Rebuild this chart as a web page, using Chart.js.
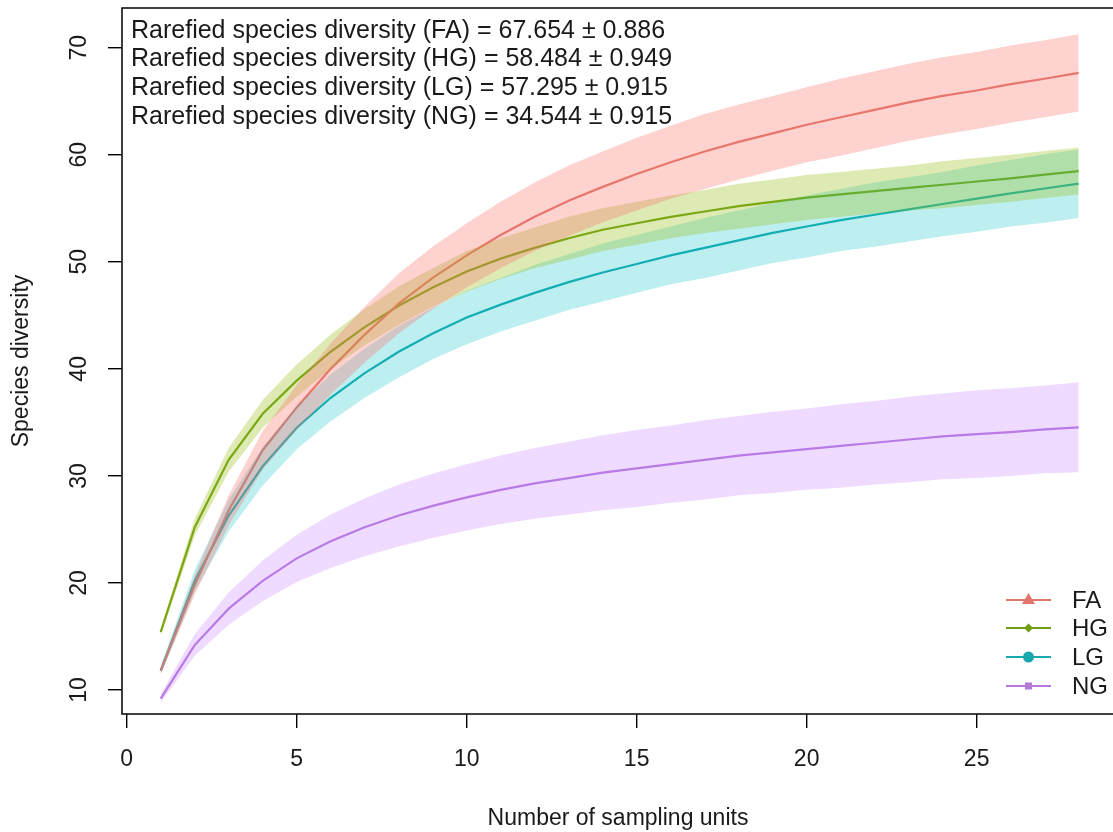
<!DOCTYPE html>
<html>
<head>
<meta charset="utf-8">
<title>Rarefaction curves</title>
<script src="https://cdn.jsdelivr.net/npm/chart.js@4.4.1/dist/chart.umd.min.js"></script>
<style>
  html, body { margin: 0; padding: 0; background: #fff; overflow: hidden; }
  #wrap { width: 1116px; height: 832px; }
</style>
</head>
<body>
<div id="wrap"><canvas id="rarefaction" width="1116" height="832"></canvas></div>
<script>
// sampling units on the x axis
const units = [1, 2, 3, 4, 5, 6, 7, 8, 9, 10, 11, 12, 13, 14, 15, 16, 17, 18, 19, 20, 21, 22, 23, 24, 25, 26, 27, 28];

const groups = ["FA", "HG", "LG", "NG"];
const rarefied = [67.654, 58.484, 57.295, 34.544];
const rarefiedSd = [0.886, 0.949, 0.915, 0.915];

const xTicks = [0, 5, 10, 15, 20, 25];
const yTicks = [10, 20, 30, 40, 50, 60, 70];

// FA
const faMean = [11.8, 19.8, 26.8, 32.4, 36.4, 40.0, 43.2, 46.1, 48.5, 50.6, 52.5, 54.2, 55.7, 57.0, 58.2, 59.3, 60.3, 61.2, 62.0, 62.8, 63.5, 64.2, 64.9, 65.5, 66.0, 66.6, 67.1, 67.65];
const faHigh = [12.1, 20.7, 28.2, 34.2, 38.5, 42.4, 45.8, 48.9, 51.4, 53.6, 55.6, 57.4, 59.0, 60.3, 61.6, 62.7, 63.8, 64.7, 65.5, 66.3, 67.1, 67.8, 68.5, 69.1, 69.6, 70.2, 70.7, 71.25];
const faLow = [11.5, 18.9, 25.4, 30.6, 34.3, 37.6, 40.6, 43.3, 45.6, 47.6, 49.4, 51.0, 52.4, 53.7, 54.8, 55.9, 56.8, 57.7, 58.5, 59.3, 59.9, 60.6, 61.3, 61.9, 62.4, 63.0, 63.5, 64.05];

// HG
const hgMean = [15.4, 25.2, 31.5, 35.8, 38.9, 41.6, 43.9, 45.9, 47.6, 49.1, 50.3, 51.3, 52.2, 53.0, 53.6, 54.2, 54.7, 55.2, 55.6, 56.0, 56.3, 56.6, 56.9, 57.2, 57.5, 57.8, 58.15, 58.48];
const hgHigh = [15.7, 26.0, 32.6, 37.1, 40.4, 43.2, 45.6, 47.7, 49.4, 51.0, 52.2, 53.2, 54.2, 55.0, 55.6, 56.2, 56.7, 57.3, 57.7, 58.1, 58.4, 58.7, 59.0, 59.4, 59.7, 60.0, 60.35, 60.68];
const hgLow = [15.1, 24.4, 30.4, 34.5, 37.4, 40.0, 42.2, 44.1, 45.8, 47.2, 48.4, 49.4, 50.2, 51.0, 51.6, 52.2, 52.7, 53.1, 53.5, 53.9, 54.2, 54.5, 54.8, 55.0, 55.3, 55.6, 55.95, 56.28];

// LG
const lgMean = [11.8, 20.2, 26.3, 30.9, 34.5, 37.3, 39.6, 41.6, 43.3, 44.8, 46.0, 47.1, 48.1, 49.0, 49.8, 50.6, 51.3, 52.0, 52.7, 53.3, 53.9, 54.4, 54.9, 55.4, 55.9, 56.4, 56.85, 57.3];
const lgHigh = [12.2, 21.2, 27.8, 32.7, 36.5, 39.5, 41.9, 44.0, 45.7, 47.3, 48.5, 49.7, 50.7, 51.7, 52.5, 53.3, 54.1, 54.8, 55.5, 56.2, 56.8, 57.4, 57.9, 58.4, 59.0, 59.5, 60.05, 60.5];
const lgLow = [11.4, 19.2, 24.8, 29.1, 32.5, 35.1, 37.3, 39.2, 40.9, 42.3, 43.5, 44.5, 45.5, 46.3, 47.1, 47.9, 48.5, 49.2, 49.9, 50.4, 51.0, 51.4, 51.9, 52.4, 52.8, 53.3, 53.65, 54.1];

// NG
const ngMean = [9.2, 14.2, 17.6, 20.2, 22.3, 23.9, 25.2, 26.3, 27.2, 28.0, 28.7, 29.3, 29.8, 30.3, 30.7, 31.1, 31.5, 31.9, 32.2, 32.5, 32.8, 33.1, 33.4, 33.7, 33.9, 34.1, 34.35, 34.54];
const ngHigh = [9.6, 15.2, 19.1, 22.1, 24.5, 26.4, 27.9, 29.2, 30.2, 31.1, 31.9, 32.6, 33.2, 33.8, 34.3, 34.7, 35.2, 35.6, 36.0, 36.3, 36.7, 37.0, 37.4, 37.7, 38.0, 38.2, 38.45, 38.74];
const ngLow = [8.8, 13.2, 16.1, 18.3, 20.1, 21.4, 22.5, 23.4, 24.2, 24.9, 25.5, 26.0, 26.4, 26.8, 27.1, 27.5, 27.8, 28.2, 28.4, 28.7, 28.9, 29.2, 29.4, 29.7, 29.8, 30.0, 30.25, 30.34];

const FONT = "'Liberation Sans', Arial, sans-serif";
const AXIS_SIZE = 23;

const lineColors = ["#e0766c", "#6f9e12", "#19a9ad", "#b579dc"];
const bandColors = [
  "rgba(248, 118, 109, 0.33)",
  "rgba(150, 190, 20, 0.32)",
  "rgba(0, 191, 196, 0.26)",
  "rgba(199, 124, 255, 0.28)",
];
const legendMarkers = ["triangle", "diamond", "circle", "square"];

const means = [faMean, hgMean, lgMean, ngMean];
const highs = [faHigh, hgHigh, lgHigh, ngHigh];
const lows = [faLow, hgLow, lgLow, ngLow];

function toPoints(values) {
  return units.map((u, i) => ({ x: u, y: values[i] }));
}

const datasets = [];
// bands first (upper filled down to lower)
groups.forEach((g, i) => {
  datasets.push({
    label: g + " upper",
    data: toPoints(highs[i]),
    borderWidth: 0,
    borderColor: "transparent",
    backgroundColor: bandColors[i],
    pointRadius: 0,
    fill: "+1",
  });
  datasets.push({
    label: g + " lower",
    data: toPoints(lows[i]),
    borderWidth: 0,
    borderColor: "transparent",
    pointRadius: 0,
    fill: false,
  });
});
// then the mean curves
groups.forEach((g, i) => {
  datasets.push({
    label: g,
    data: toPoints(means[i]),
    borderColor: lineColors[i],
    borderWidth: 2.2,
    pointRadius: 0,
    fill: false,
  });
});

// R-like decorations: box, rotated y labels, text block and legend
const rStyle = {
  id: "rStyle",
  afterDraw(chart) {
    const { ctx, chartArea } = chart;
    const yScale = chart.scales.y;

    ctx.save();
    ctx.strokeStyle = "#000";
    ctx.lineWidth = 1.5;
    ctx.strokeRect(chartArea.left, chartArea.top, chartArea.right - chartArea.left, chartArea.bottom - chartArea.top);

    // y tick labels, parallel to the axis
    ctx.fillStyle = "#1a1a1a";
    ctx.font = AXIS_SIZE + "px " + FONT;
    ctx.textAlign = "center";
    ctx.textBaseline = "middle";
    for (const v of yTicks) {
      const py = yScale.getPixelForValue(v);
      ctx.save();
      ctx.translate(80, py);
      ctx.rotate(-Math.PI / 2);
      ctx.fillText(String(v), 0, 0);
      ctx.restore();
    }

    // text block top-left
    ctx.font = "25px " + FONT;
    ctx.textAlign = "left";
    ctx.textBaseline = "alphabetic";
    groups.forEach((g, i) => {
      const txt = "Rarefied species diversity (" + g + ") = " + rarefied[i].toFixed(3) + " \u00b1 " + rarefiedSd[i].toFixed(3);
      ctx.fillText(txt, 131, 37.5 + i * 28.9);
    });

    // legend bottom-right
    const rows = [600, 628, 657, 686];
    groups.forEach((g, i) => {
      const y = rows[i];
      ctx.strokeStyle = lineColors[i];
      ctx.fillStyle = lineColors[i];
      ctx.lineWidth = 2.2;
      ctx.beginPath();
      ctx.moveTo(1006, y);
      ctx.lineTo(1051, y);
      ctx.stroke();
      const cx = 1028.5;
      ctx.beginPath();
      if (legendMarkers[i] === "triangle") {
        ctx.moveTo(cx, y - 7);
        ctx.lineTo(cx + 6.5, y + 4);
        ctx.lineTo(cx - 6.5, y + 4);
        ctx.closePath();
      } else if (legendMarkers[i] === "diamond") {
        ctx.moveTo(cx, y - 4.5);
        ctx.lineTo(cx + 4.5, y);
        ctx.lineTo(cx, y + 4.5);
        ctx.lineTo(cx - 4.5, y);
        ctx.closePath();
      } else if (legendMarkers[i] === "circle") {
        ctx.arc(cx, y, 5.5, 0, Math.PI * 2);
      } else {
        ctx.rect(cx - 3.5, y - 3.5, 7, 7);
      }
      ctx.fill();
      ctx.fillStyle = "#1a1a1a";
      ctx.font = "24px " + FONT;
      ctx.textBaseline = "middle";
      ctx.fillText(g, 1072, y + 1);
    });
    ctx.restore();
  },
};

new Chart(document.getElementById("rarefaction"), {
  type: "line",
  data: { datasets },
  plugins: [rStyle],
  options: {
    responsive: false,
    animation: false,
    layout: { padding: { top: 8, right: 2, left: 0, bottom: 0 } },
    plugins: {
      legend: { display: false },
      tooltip: { enabled: false },
      filler: { propagate: false },
    },
    scales: {
      x: {
        type: "linear",
        min: -0.138,
        max: 29.04,
        afterBuildTicks: (s) => {
          s.ticks = xTicks.map((v) => ({ value: v }));
        },
        afterFit: (s) => {
          s.height = 118;
        },
        border: { display: false },
        grid: { drawOnChartArea: false, tickLength: 14, color: "#000", lineWidth: 1.4 },
        ticks: {
          color: "#1a1a1a",
          font: { family: FONT, size: AXIS_SIZE },
          padding: 18,
          maxRotation: 0,
          callback: (v) => String(v),
        },
        title: {
          display: true,
          text: "Number of sampling units",
          color: "#1a1a1a",
          font: { family: FONT, size: AXIS_SIZE },
          padding: { top: 0, bottom: 0 },
        },
      },
      y: {
        type: "linear",
        min: 7.76,
        max: 73.71,
        afterBuildTicks: (s) => {
          s.ticks = yTicks.map((v) => ({ value: v }));
        },
        afterFit: (s) => {
          s.width = 122;
        },
        border: { display: false },
        grid: { drawOnChartArea: false, tickLength: 14, color: "#000", lineWidth: 1.4 },
        ticks: { display: false },
        title: {
          display: true,
          text: "Species diversity",
          color: "#1a1a1a",
          font: { family: FONT, size: AXIS_SIZE },
          padding: { top: 8, bottom: 0 },
        },
      },
    },
  },
});
</script>
</body>
</html>
